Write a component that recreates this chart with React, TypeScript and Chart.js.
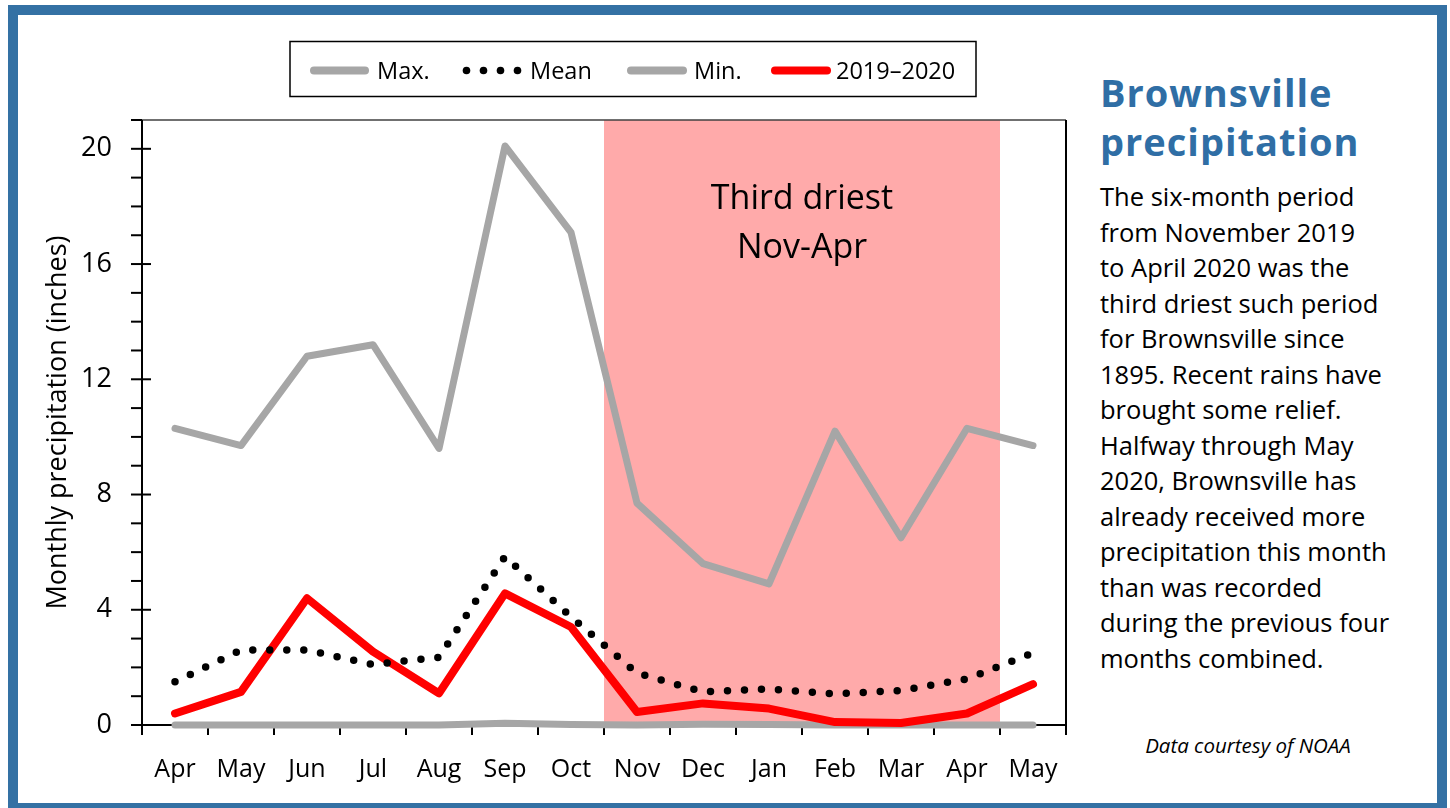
import React, { useEffect, useRef } from "react";
import { Chart, registerables } from "chart.js";

Chart.register(...registerables);

// ---- Data ----
const months = ["Apr", "May", "Jun", "Jul", "Aug", "Sep", "Oct", "Nov", "Dec", "Jan", "Feb", "Mar", "Apr", "May"];
const maxValues = [10.3, 9.7, 12.8, 13.2, 9.6, 20.1, 17.1, 7.7, 5.6, 4.9, 10.2, 6.5, 10.3, 9.7];
const meanValues = [1.5, 2.6, 2.6, 2.1, 2.35, 5.85, 3.75, 1.8, 1.15, 1.25, 1.08, 1.2, 1.6, 2.5];
const minValues = [0, 0, 0, 0, 0, 0.06, 0.02, 0, 0.03, 0.02, 0, 0, 0, 0];
const recentValues = [0.4, 1.15, 4.4, 2.55, 1.1, 4.57, 3.4, 0.45, 0.75, 0.57, 0.1, 0.07, 0.4, 1.42];
const yTickValues = [0, 4, 8, 12, 16, 20];
const yMinorStep = 1;
const yMax = 21;
const dryStartIndex = 7; // Nov
const dryEndIndex = 12; // Apr
const dryLabelLines = ["Third driest", "Nov-Apr"];
const seriesNames = ["Max.", "Mean", "Min.", "2019–2020"];
const yTitle = "Monthly precipitation (inches)";

const GRAY = "#A6A6A6";
const RED = "#FF0000";
const PINK = "#FFAAAA";
const BLUE = "#3471A4";
const FONT = "'Open Sans', 'Noto Sans', sans-serif";

const framePlugin = {
  id: "frame",
  beforeDatasetsDraw(chart: any) {
    const { ctx, chartArea } = chart;
    const xs = chart.scales.x;
    const ys = chart.scales.y;
    const step = xs.getPixelForValue(1) - xs.getPixelForValue(0);
    const bx0 = xs.getPixelForValue(dryStartIndex) - step / 2;
    const bx1 = xs.getPixelForValue(dryEndIndex) + step / 2;
    ctx.save();
    ctx.fillStyle = PINK;
    ctx.fillRect(bx0, chartArea.top, bx1 - bx0, chartArea.bottom - chartArea.top);
    ctx.fillStyle = "#000";
    ctx.font = `34px ${FONT}`;
    ctx.textAlign = "center";
    ctx.textBaseline = "alphabetic";
    const cx = (bx0 + bx1) / 2;
    ctx.fillText(dryLabelLines[0], cx, chartArea.top + 89);
    ctx.fillText(dryLabelLines[1], cx, chartArea.top + 138);

    // frame top & right
    ctx.strokeStyle = "#404040";
    ctx.lineWidth = 1.5;
    ctx.beginPath();
    ctx.moveTo(chartArea.left - 8, chartArea.top);
    ctx.lineTo(chartArea.right, chartArea.top);
    ctx.stroke();
    ctx.strokeStyle = "#000";
    ctx.lineWidth = 2;
    ctx.beginPath();
    ctx.moveTo(chartArea.right, chartArea.top);
    ctx.lineTo(chartArea.right, chartArea.bottom);
    ctx.stroke();

    // y axis line
    ctx.beginPath();
    ctx.moveTo(chartArea.left, chartArea.top);
    ctx.lineTo(chartArea.left, chartArea.bottom);
    ctx.stroke();
    // y ticks
    for (let v = 0; v <= yMax; v += yMinorStep) {
      const y = ys.getPixelForValue(v);
      const major = yTickValues.includes(v);
      ctx.beginPath();
      ctx.moveTo(chartArea.left - 11, y);
      ctx.lineTo(chartArea.left + (major ? 9 : 0), y);
      ctx.stroke();
    }
    // x axis line
    ctx.beginPath();
    ctx.moveTo(chartArea.left - 11, chartArea.bottom);
    ctx.lineTo(chartArea.right, chartArea.bottom);
    ctx.stroke();
    // x ticks at category boundaries
    for (let i = 0; i <= months.length; i++) {
      const x = xs.getPixelForValue(0) - step / 2 + i * step;
      ctx.beginPath();
      ctx.moveTo(x, chartArea.bottom);
      ctx.lineTo(x, chartArea.bottom + 10);
      ctx.stroke();
    }
    ctx.restore();
  },
};

const legendPlugin = {
  id: "customLegend",
  afterDraw(chart: any) {
    const { ctx } = chart;
    ctx.save();
    ctx.strokeStyle = "#000";
    ctx.lineWidth = 1.5;
    ctx.strokeRect(290, 41.5, 686, 55);
    const cy = 70.5;
    const items = [
      { x0: 310, x1: 369, tx: 377, kind: "line", color: GRAY },
      { x0: 463, x1: 521, tx: 530, kind: "dots", color: "#000" },
      { x0: 627, x1: 687, tx: 694, kind: "line", color: GRAY },
      { x0: 771, x1: 831, tx: 836, kind: "line", color: RED },
    ];
    items.forEach((it, i) => {
      if (it.kind === "line") {
        ctx.strokeStyle = it.color;
        ctx.lineWidth = 8;
        ctx.lineCap = "round";
        ctx.beginPath();
        ctx.moveTo(it.x0 + 4, cy);
        ctx.lineTo(it.x1 - 4, cy);
        ctx.stroke();
      } else {
        ctx.fillStyle = it.color;
        for (let k = 0; k < 4; k++) {
          const x = it.x0 + 3.5 + (k * (it.x1 - it.x0 - 7)) / 3;
          ctx.beginPath();
          ctx.arc(x, cy, 3.8, 0, Math.PI * 2);
          ctx.fill();
        }
      }
      ctx.fillStyle = "#000";
      ctx.font = `23.5px ${FONT}`;
      ctx.textAlign = "left";
      ctx.textBaseline = "alphabetic";
      ctx.fillText(seriesNames[i], it.tx, 78.5);
    });
    ctx.restore();
  },
};

export default function App() {
  const canvasRef = useRef<HTMLCanvasElement | null>(null);

  useEffect(() => {
    let chart: Chart | null = null;
    let cancelled = false;
    const make = () => {
      if (cancelled || !canvasRef.current) return;
      chart = new Chart(canvasRef.current, {
        type: "line",
        data: {
          labels: months,
          datasets: [
            {
              label: seriesNames[0],
              data: maxValues,
              borderColor: GRAY,
              borderWidth: 7,
              borderCapStyle: "round",
              borderJoinStyle: "round",
              pointRadius: 0,
              clip: false,
              order: 3,
            },
            {
              label: seriesNames[1],
              data: meanValues,
              borderColor: "#000",
              borderWidth: 7.5,
              borderDash: [0, 17],
              borderCapStyle: "round",
              borderJoinStyle: "round",
              pointRadius: 0,
              clip: false,
              order: 0,
            },
            {
              label: seriesNames[2],
              data: minValues,
              borderColor: GRAY,
              borderWidth: 7,
              borderCapStyle: "round",
              borderJoinStyle: "round",
              pointRadius: 0,
              clip: false,
              order: 4,
            },
            {
              label: seriesNames[3],
              data: recentValues,
              borderColor: RED,
              borderWidth: 8,
              borderCapStyle: "round",
              borderJoinStyle: "round",
              pointRadius: 0,
              clip: false,
              order: 1,
            },
          ] as any,
        },
        options: {
          animation: false,
          responsive: false,
          devicePixelRatio: 1,
          layout: { padding: { left: 42, top: 120, right: 34, bottom: 0 } },
          plugins: { legend: { display: false }, tooltip: { enabled: false } },
          elements: { line: { tension: 0 }, point: { radius: 0 } },
          scales: {
            x: {
              type: "category",
              offset: true,
              grid: { display: false, drawTicks: false, offset: true },
              border: { display: false },
              ticks: {
                color: "#000",
                font: { family: FONT, size: 25 },
                padding: 30,
                maxRotation: 0,
                autoSkip: false,
              },
              afterFit: (s: any) => {
                s.height = 83;
              },
            },
            y: {
              min: 0,
              max: yMax,
              grid: { display: false, drawTicks: false },
              border: { display: false },
              afterBuildTicks: (s: any) => {
                s.ticks = yTickValues.map((v) => ({ value: v }));
              },
              ticks: {
                color: "#000",
                font: { family: FONT, size: 27 },
                padding: 30,
              },
              title: {
                display: true,
                text: yTitle,
                color: "#000",
                font: { family: FONT, size: 27 },
                padding: { top: 0, bottom: 0 },
              },
              afterFit: (s: any) => {
                s.width = 100;
              },
            },
          },
        } as any,
        plugins: [framePlugin, legendPlugin],
      });
    };
    const fonts = (document as any).fonts;
    if (fonts && fonts.load) {
      Promise.all([
        fonts.load(`25px "Open Sans"`),
        fonts.load(`bold 36px "Open Sans"`),
        fonts.load(`italic 18px "Open Sans"`),
      ])
        .catch(() => {})
        .then(make);
    } else {
      make();
    }
    return () => {
      cancelled = true;
      if (chart) chart.destroy();
    };
  }, []);

  return (
    <div
      style={{
        position: "fixed",
        left: 0,
        top: 0,
        width: 1450,
        height: 808,
        overflow: "hidden",
        background: "#fff",
        fontFamily: FONT,
      }}
    >
      <canvas
        ref={canvasRef}
        width={1100}
        height={808}
        style={{ position: "absolute", left: 0, top: 0, width: 1100, height: 808 }}
      />
      <div
        style={{
          position: "absolute",
          left: 1100,
          top: 68,
          color: "#2F6EA5",
          fontWeight: 700,
          fontSize: 38,
          letterSpacing: "1px",
          lineHeight: "49px",
          whiteSpace: "nowrap",
        }}
      >
        Brownsville
        <br />
        precipitation
      </div>
      <div
        style={{
          position: "absolute",
          left: 1100,
          top: 179,
          color: "#000",
          fontSize: 25.5,
          lineHeight: "35.5px",
          whiteSpace: "nowrap",
        }}
      >
        The six-month period
        <br />
        from November 2019
        <br />
        to April 2020 was the
        <br />
        third driest such period
        <br />
        for Brownsville since
        <br />
        1895. Recent rains have
        <br />
        brought some relief.
        <br />
        Halfway through May
        <br />
        2020, Brownsville has
        <br />
        already received more
        <br />
        precipitation this month
        <br />
        than was recorded
        <br />
        during the previous four
        <br />
        months combined.
      </div>
      <div
        style={{
          position: "absolute",
          left: 1100,
          width: 296,
          top: 731,
          textAlign: "center",
          fontStyle: "italic",
          fontSize: 20.5,
          color: "#000",
          whiteSpace: "nowrap",
        }}
      >
        Data courtesy of NOAA
      </div>
      <div
        style={{
          position: "absolute",
          left: 8,
          top: 5,
          width: 1439,
          height: 808,
          border: `10px solid ${BLUE}`,
          boxSizing: "border-box",
          pointerEvents: "none",
        }}
      />
    </div>
  );
}
